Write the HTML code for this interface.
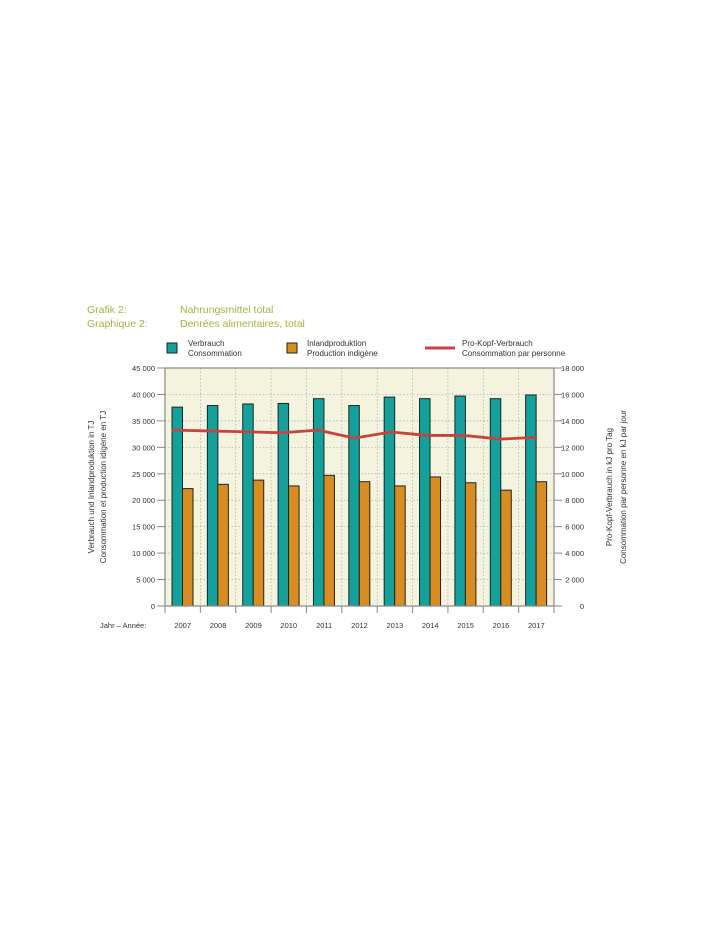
<!DOCTYPE html>
<html><head><meta charset="utf-8"><style>
body{margin:0;background:#fff;width:720px;height:932px;overflow:hidden;font-family:"Liberation Sans",sans-serif}
</style></head><body>
<svg width="720" height="932" font-family="Liberation Sans, sans-serif">
<g fill="#a9b23a" font-size="10.5">
<text x="87" y="313">Grafik 2:</text>
<text x="180" y="313">Nahrungsmittel total</text>
<text x="87" y="327">Graphique 2:</text>
<text x="180" y="327">Denrées alimentaires, total</text>
</g>
<g font-size="8" fill="#333">
<rect x="167" y="343" width="10" height="10" fill="#12a29e" stroke="#222"/>
<text x="188" y="346">Verbrauch</text>
<text x="188" y="356">Consommation</text>
<rect x="287" y="343" width="10" height="10" fill="#db8c1f" stroke="#222"/>
<text x="307" y="346">Inlandproduktion</text>
<text x="307" y="356">Production indigène</text>
<line x1="425" y1="348" x2="455" y2="348" stroke="#c9423f" stroke-width="3"/>
<text x="462" y="346">Pro-Kopf-Verbrauch</text>
<text x="462" y="356">Consommation par personne</text>
</g>
<g id="plot"></g>
<g font-size="8" fill="#333">
<text transform="translate(94,487) rotate(-90)" text-anchor="middle">Verbrauch und Inlandproduktion in TJ</text>
<text transform="translate(106,487) rotate(-90)" text-anchor="middle">Consommation et production idigène en TJ</text>
<text transform="translate(612,487) rotate(-90)" text-anchor="middle">Pro-Kopf-Verbrauch in kJ pro Tag</text>
<text transform="translate(626,487) rotate(-90)" text-anchor="middle">Consommation par personne en kJ par jour</text>
<text x="100" y="628" font-size="7.5">Jahr  –  Année:</text>
</g>
</svg>
<script>
const years=["2007","2008","2009","2010","2011","2012","2013","2014","2015","2016","2017"];
const verbrauch=[37600,37900,38200,38300,39200,37900,39500,39200,39700,39200,39900];
const inland=[22200,23000,23800,22700,24700,23500,22700,24400,23300,21900,23500];
const proKopf=[13300,13240,13180,13100,13300,12700,13160,12900,12900,12620,12760];
const leftTicks=[0,5000,10000,15000,20000,25000,30000,35000,40000,45000];
const rightTicks=[0,2000,4000,6000,8000,10000,12000,14000,16000,18000];
const NS="http://www.w3.org/2000/svg";
const g=document.getElementById('plot');
const X0=165,X1=554,Y0=606,Y1=368;
const slot=(X1-X0)/years.length;
const yL=v=>Y0-(v/45000)*(Y0-Y1);
const yR=v=>Y0-(v/18000)*(Y0-Y1);
function mk(t,a){const e=document.createElementNS(NS,t);for(const k in a)e.setAttribute(k,a[k]);g.appendChild(e);return e;}
let bg=mk('rect',{x:X0,y:Y1,width:X1-X0,height:Y0-Y1,fill:'#f4f3de'});


leftTicks.forEach(v=>{
  if(v>0&&v<45000){let l=mk('line',{x1:X0,x2:X1,y1:yL(v),y2:yL(v),stroke:'#aaa','stroke-width':0.7,'stroke-dasharray':'1.5,2'});
  
  }
  let tk=mk('line',{x1:X0-8,x2:X0,y1:yL(v),y2:yL(v),stroke:'#888'});
  
  
  let t=mk('text',{x:X0-10,y:yL(v)+3,'text-anchor':'end','font-size':7.5,fill:'#333'});
  t.textContent=v===0?'0':v.toLocaleString('fr-FR').replace(/\s/g,' ');
  
  
});
rightTicks.forEach(v=>{
  let tk=mk('line',{x1:X1,x2:X1+8,y1:yR(v),y2:yR(v),stroke:'#888'});
  
  
  let t=mk('text',{x:X1+30,y:yR(v)+3,'text-anchor':'end','font-size':7.5,fill:'#333'});
  t.textContent=v===0?'0':v.toLocaleString('fr-FR').replace(/\s/g,' ');
  
  
});
for(let i=0;i<=years.length;i++){
  const x=X0+i*slot;
  if(i>0&&i<years.length){let l=mk('line',{x1:x,x2:x,y1:Y1,y2:Y0,stroke:'#aaa','stroke-width':0.7,'stroke-dasharray':'1.5,2'});
  
  }
  let tk=mk('line',{x1:x,x2:x,y1:Y0,y2:Y0+7,stroke:'#888'});
  
  
}
years.forEach((yr,i)=>{
  const sx=X0+i*slot;
  let b=mk('rect',{x:sx+7,y:yL(verbrauch[i]),width:10.5,height:Y0-yL(verbrauch[i]),fill:'#12a29e',stroke:'#222','stroke-width':1});
  
  
  let o=mk('rect',{x:sx+17.5,y:yL(inland[i]),width:10.5,height:Y0-yL(inland[i]),fill:'#db8c1f',stroke:'#222','stroke-width':1});
  
  
  let t=mk('text',{x:sx+slot/2,y:628,'text-anchor':'middle','font-size':7.5,fill:'#333'});
  t.textContent=yr;
  
  
});
const pts=proKopf.map((v,i)=>[X0+7+i*(slot+1)+(i===0?0:0),yR(v)]);
const pts2=proKopf.map((v,i)=>[X0+7+i*((X1-17-X0-7)/(years.length-1)),yR(v)]);
let pl=mk('polyline',{points:pts2.map(p=>p.join(',')).join(' '),fill:'none',stroke:'#c9423f','stroke-width':2.8,'stroke-linejoin':'round'});


let fr=mk('rect',{x:X0,y:Y1,width:X1-X0,height:Y0-Y1,fill:'none',stroke:'#888','stroke-width':1.2});


</script>
</body></html>
